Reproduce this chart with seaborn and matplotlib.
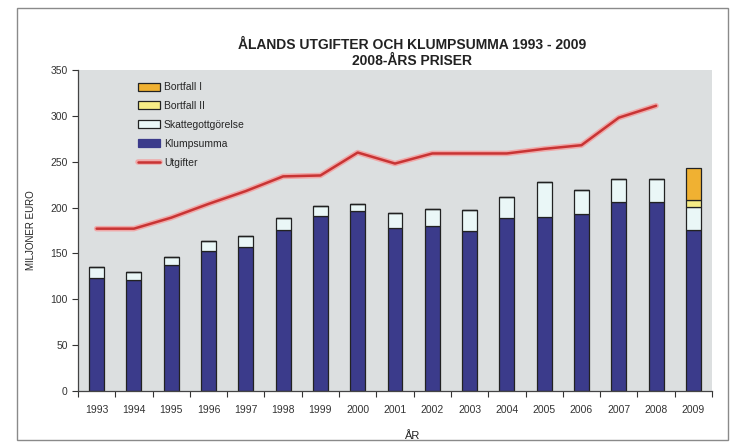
"""
Ålands utgifter och klumpsumma 1993 - 2009 (2008-års priser)
"""

import numpy as np
import matplotlib
matplotlib.use("Agg")
import matplotlib.pyplot as plt
import matplotlib.patheffects as pe
from matplotlib.patches import Patch, Rectangle
from matplotlib.lines import Line2D
import seaborn as sns

# data (miljoner euro)
years = [str(y) for y in range(1993, 2010)]
klumpsumma = [123, 121, 137, 153, 157, 176, 191, 196, 178, 180, 175, 189, 190, 193, 206, 206, 176]
skattegottgorelse = [12, 9, 9, 11, 12, 13, 11, 8, 16, 18, 22, 23, 38, 26, 25, 25, 25]
bortfall_ii = [0] * 16 + [7]
bortfall_i = [0] * 16 + [35]
utgifter = [177, 177, 189, 204, 218, 234, 235, 260, 248, 259, 259, 259, 264, 268, 298, 311, np.nan]

yticks = [0, 50, 100, 150, 200, 250, 300, 350]

# färger
c_klump = "#3b3b8b"
c_skatte = "#eaf7f7"
c_bii = "#f6ec86"
c_bi = "#f0b132"
c_line = "#c83434"
c_glow = "#f0a8a8"
c_bg = "#dcdfe0"


def setup_style():
    sns.set_style("ticks")
    plt.rcParams["font.family"] = ["Liberation Sans Narrow", "Liberation Sans", "DejaVu Sans"]
    plt.rcParams["font.size"] = 7.5


setup_style()

fig = plt.figure(figsize=(7.37, 4.42), dpi=100)
ax = fig.add_axes([78 / 737, 1 - 391 / 442, 634 / 737, 321 / 442])
ax.set_facecolor(c_bg)

# yttre ram
fig.patches.append(Rectangle((17 / 737, 2 / 442), 711 / 737, 432 / 442,
                             transform=fig.transFigure, fill=False,
                             edgecolor="#8a8a8a", linewidth=1.0))

k = np.array(klumpsumma, dtype=float)
s = np.array(skattegottgorelse, dtype=float)
b2 = np.array(bortfall_ii, dtype=float)
b1 = np.array(bortfall_i, dtype=float)

bar_kw = dict(order=years, width=0.4, edgecolor="#222222", linewidth=0.9, ax=ax, errorbar=None)
sns.barplot(x=years, y=k, color=c_klump, saturation=1, **bar_kw)
sns.barplot(x=years, y=s, bottom=k, color=c_skatte, saturation=1, **bar_kw)
sns.barplot(x=years, y=b2, bottom=k + s, color=c_bii, saturation=1, **bar_kw)
sns.barplot(x=years, y=b1, bottom=k + s + b2, color=c_bi, saturation=1, **bar_kw)

sns.pointplot(x=years, y=utgifter, order=years, color=c_line, marker="", linewidth=1.8,
              errorbar=None, ax=ax,
              path_effects=[pe.Stroke(linewidth=4.0, foreground=c_glow), pe.Normal()])

ax.set_xlim(-0.5, len(years) - 0.5)
ax.set_ylim(0, 350)
ax.set_yticks(yticks)
ax.tick_params(axis="y", direction="out", length=4, width=0.8, colors="#333333", labelsize=7.5)
ax.tick_params(axis="x", which="major", length=0, labelsize=7.5, colors="#333333", pad=10)
ax.set_xticks(np.arange(-0.5, len(years)), minor=True)
ax.tick_params(axis="x", which="minor", direction="out", length=4, width=0.8, colors="#333333")

for side in ["top", "right"]:
    ax.spines[side].set_visible(False)
for side in ["left", "bottom"]:
    ax.spines[side].set_color("#444444")
    ax.spines[side].set_linewidth(0.9)

ax.set_ylabel("MILJONER EURO", fontsize=7, labelpad=10, color="#222222")
ax.set_xlabel("ÅR", fontsize=8, color="#222222")
ax.xaxis.set_label_coords((412 - 78) / 634, -0.125)

fig.text(412 / 737, 1 - 45 / 442, "ÅLANDS UTGIFTER OCH KLUMPSUMMA 1993 - 2009",
         ha="center", va="center", fontsize=10, fontweight="bold", color="#222222")
fig.text(412 / 737, 1 - 61 / 442, "2008-ÅRS PRISER",
         ha="center", va="center", fontsize=10, fontweight="bold", color="#222222")

handles = [
    Patch(facecolor=c_bi, edgecolor="#222222", linewidth=0.9),
    Patch(facecolor=c_bii, edgecolor="#222222", linewidth=0.9),
    Patch(facecolor=c_skatte, edgecolor="#222222", linewidth=0.9),
    Patch(facecolor=c_klump, edgecolor=c_klump, linewidth=0.9),
    Line2D([], [], color=c_line, linewidth=1.8,
           path_effects=[pe.Stroke(linewidth=4, foreground=c_glow), pe.Normal()]),
]
labels = ["Bortfall I", "Bortfall II", "Skattegottgörelse", "Klumpsumma", "Utgifter"]
ax.legend(handles, labels, loc="upper left", bbox_to_anchor=(0.088, 0.975), frameon=False,
          fontsize=7.5, handlelength=2.1, handleheight=0.8, labelspacing=0.85,
          handletextpad=0.4, borderaxespad=0)

fig.savefig("out.png", dpi=100, facecolor="white")
